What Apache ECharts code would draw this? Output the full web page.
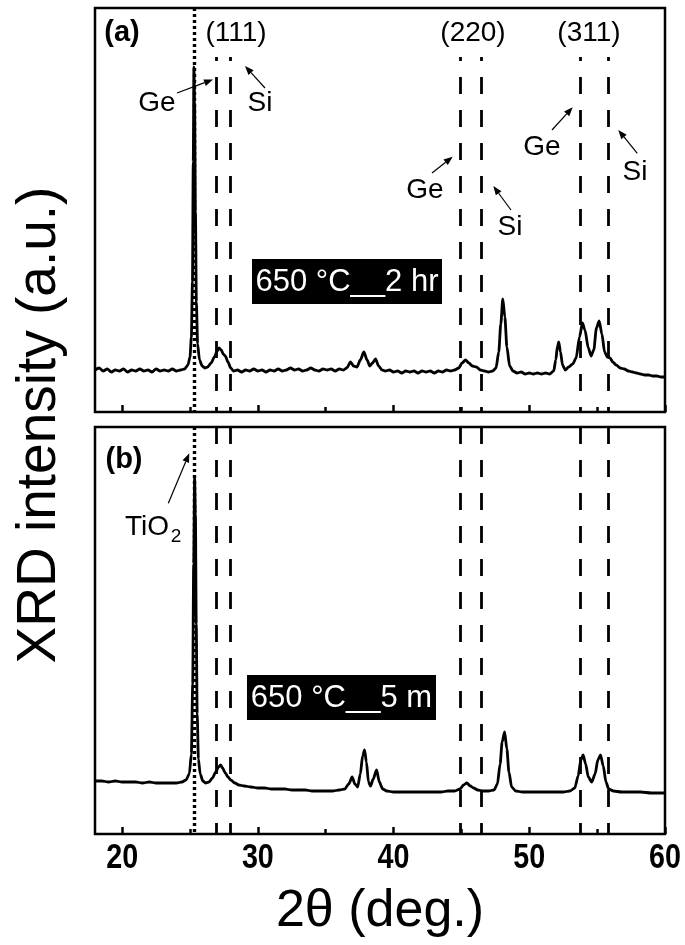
<!DOCTYPE html>
<html><head><meta charset="utf-8">
<script src="https://cdn.jsdelivr.net/npm/echarts@6/dist/echarts.min.js"></script>
<style>html,body{margin:0;padding:0;background:#fff}#c{width:685px;height:945px}</style>
</head><body><div id="c"></div>
<script>
// ---- data (2theta in degrees, intensity in a.u.) ----
const topScan = [[18.0,42],[18.3,44],[18.6,41],[18.9,43],[19.2,40],[19.5,42],[19.8,41],[20.1,43],[20.4,40],[20.7,42],[21.0,41],[21.3,43],[21.6,41],[21.9,42],[22.2,40],[22.5,43],[22.8,41],[23.1,42],[23.4,41],[23.7,43],[24.0,41],[24.3,42],[24.6,43],[24.85,47],[25.0,55],[25.1,75],[25.18,130],[25.24,250],[25.29,345],[25.34,310],[25.4,200],[25.47,110],[25.56,68],[25.7,52],[25.9,46],[26.1,44],[26.3,45],[26.55,49],[26.8,55],[27.0,61],[27.15,64],[27.3,62],[27.45,58],[27.6,56],[27.8,50],[28.0,44],[28.2,41],[28.5,42],[28.8,40],[29.1,42],[29.4,41],[29.7,43],[30.0,41],[30.3,42],[30.6,40],[30.9,42],[31.2,41],[31.5,43],[31.8,41],[32.1,42],[32.4,44],[32.7,42],[33.0,43],[33.3,41],[33.6,42],[33.9,44],[34.2,42],[34.5,41],[34.8,43],[35.1,42],[35.4,43],[35.7,41],[36.0,43],[36.3,42],[36.55,44],[36.83,50],[37.05,46],[37.3,45],[37.55,52],[37.81,60],[38.05,52],[38.25,46],[38.45,49],[38.67,53],[38.9,46],[39.15,42],[39.4,41],[39.7,42],[40.0,40],[40.3,41],[40.6,39],[40.9,41],[41.2,40],[41.5,41],[41.8,39],[42.1,41],[42.4,40],[42.7,41],[43.0,39],[43.3,41],[43.6,40],[43.9,42],[44.2,41],[44.5,42],[44.8,44],[45.05,49],[45.3,52],[45.55,49],[45.8,46],[46.1,45],[46.4,42],[46.7,41],[47.0,40],[47.3,41],[47.55,44],[47.75,60],[47.9,88],[48.05,113],[48.2,95],[48.35,65],[48.55,46],[48.8,41],[49.1,39],[49.4,40],[49.7,38],[50.0,39],[50.3,38],[50.6,39],[50.9,38],[51.2,39],[51.5,38],[51.8,41],[51.95,52],[52.08,66],[52.17,70],[52.3,60],[52.45,47],[52.65,42],[52.9,45],[53.2,48],[53.45,54],[53.7,75],[53.92,89],[54.1,82],[54.35,64],[54.55,56],[54.75,62],[54.95,84],[55.15,91],[55.35,78],[55.55,60],[55.75,55],[55.95,54],[56.15,50],[56.4,47],[56.7,44],[57.0,43],[57.3,41],[57.6,40],[57.9,39],[58.2,38],[58.5,37],[58.8,37],[59.1,36],[59.4,36],[59.7,35],[60.0,35]];

const bottomScan = [[18.0,53],[18.5,53],[19.0,52],[19.5,53],[20.0,52],[20.5,52],[21.0,52],[21.5,51],[22.0,52],[22.5,51],[23.0,51],[23.5,51],[24.0,51],[24.4,52],[24.7,54],[24.95,60],[25.1,80],[25.2,150],[25.27,270],[25.34,357],[25.4,320],[25.46,210],[25.53,120],[25.62,75],[25.75,60],[25.95,53],[26.15,51],[26.4,52],[26.65,56],[26.9,62],[27.1,67],[27.25,69],[27.4,66],[27.6,61],[27.8,57],[28.0,54],[28.3,51],[28.6,49],[29.0,48],[29.5,47],[30.0,46],[30.5,46],[31.0,45],[31.5,45],[32.0,45],[32.5,44],[33.0,44],[33.5,44],[34.0,43],[34.5,43],[35.0,43],[35.5,43],[36.0,44],[36.4,45],[36.7,50],[36.95,57],[37.15,50],[37.35,47],[37.55,60],[37.72,78],[37.86,84],[38.0,72],[38.15,52],[38.3,48],[38.5,55],[38.75,64],[38.95,52],[39.2,45],[39.5,43],[40.0,42],[40.5,42],[41.0,42],[41.5,42],[42.0,42],[42.5,42],[43.0,42],[43.5,42],[44.0,43],[44.5,43],[44.9,45],[45.15,49],[45.4,51],[45.65,48],[45.9,46],[46.2,44],[46.6,43],[47.0,43],[47.4,44],[47.65,50],[47.85,70],[48.0,92],[48.18,102],[48.35,85],[48.5,62],[48.7,47],[49.0,43],[49.5,42],[50.0,42],[50.5,42],[51.0,42],[51.5,42],[52.0,42],[52.5,42],[53.0,43],[53.35,46],[53.6,58],[53.8,74],[53.97,79],[54.15,70],[54.35,57],[54.6,52],[54.85,60],[55.05,74],[55.25,79],[55.45,68],[55.65,52],[55.85,45],[56.2,43],[56.8,42],[57.5,42],[58.2,42],[59.0,41],[60.0,41]];

const gePeaks = [26.96, 44.89, 53.73];   // Ge (111), (220), (311)
const siPeaks = [27.99, 46.48, 55.79];   // Si (111), (220), (311)
const tio2Peak = 25.28;
const xMajorTicks = [20, 30, 40, 50, 60];
const xMinorTicks = [25, 35, 45, 55];
const hklLabels = ['(111)', '(220)', '(311)'];
const topLabel = '650 °C__2 hr';
const bottomLabel = '650 °C__5 m';

// ---- styling / layout ----
const F = "'Liberation Sans', Arial, sans-serif";
const TOP_MAX = 404, BOT_MAX = 407;
const LW = 2.8;

const chart = echarts.init(document.getElementById('c'), null, {renderer: 'canvas'});

function xAx(grid, ticks, len) {
  return {
    type: 'value', gridIndex: grid, min: 18, max: 60, position: 'bottom',
    axisLine: {show: false},
    splitLine: {show: false},
    axisTick: {show: true, inside: true, length: len, customValues: ticks,
               lineStyle: {color: '#000', width: 2.5}},
    axisLabel: {show: false}
  };
}
function yAx(grid, max) {
  return {type: 'value', gridIndex: grid, min: 0, max: max, show: false, splitLine: {show: false}};
}
const dashStyle = {color: '#000', width: LW, type: [17, 16], dashOffset: 13};
const dashStyleB = {color: '#000', width: LW, type: [17, 16], dashOffset: 0};
const dotStyle = {color: '#000', width: 3.4, type: [3, 3]};

function refLines(maxY, startY, style) {
  const d = [[{coord: [tio2Peak, maxY], lineStyle: dotStyle}, {coord: [tio2Peak, 0]}]];
  gePeaks.concat(siPeaks).forEach(v => {
    d.push([{coord: [v, startY], lineStyle: style}, {coord: [v, 0]}]);
  });
  return {silent: true, symbol: ['none', 'none'], label: {show: false},
          animation: false, data: d};
}

function txt(text, x, y, size, opts) {
  opts = opts || {};
  return {type: 'text', x: x, y: y, rotation: opts.rot || 0, scaleX: opts.sx || 1, z: 100,
    style: {text: text, fill: opts.fill || '#000', font: (opts.bold ? 'bold ' : '') + size + 'px ' + F,
            textAlign: opts.align || 'center', textVerticalAlign: 'middle'}};
}
function arrow(x1, y1, x2, y2) {
  const dx = x2 - x1, dy = y2 - y1, L = Math.hypot(dx, dy), ux = dx / L, uy = dy / L;
  const hl = 9, hw = 3.5;
  const bx = x2 - ux * hl, by = y2 - uy * hl;
  return [
    {type: 'line', z: 100, shape: {x1: x1, y1: y1, x2: bx, y2: by}, style: {stroke: '#000', lineWidth: 1.2}},
    {type: 'polygon', z: 100, shape: {points: [[x2, y2], [bx - uy * hw, by + ux * hw], [bx + uy * hw, by - ux * hw]]},
     style: {fill: '#000'}}
  ];
}

const graphics = [
  txt('(a)', 122, 33, 29, {bold: true}),
  txt('(b)', 124, 460, 29, {bold: true}),
  txt(hklLabels[0], 236, 33, 28),
  txt(hklLabels[1], 473, 33, 28),
  txt(hklLabels[2], 589, 33, 28),
  txt('Ge', 157, 103, 28), txt('Si', 260, 103, 28),
  txt('Ge', 425, 190, 28), txt('Si', 510, 227, 28),
  txt('Ge', 542, 147, 28), txt('Si', 635, 172, 28),
  txt('TiO', 125, 527, 28, {align: 'left'}),
  txt('2', 176, 537, 19),
  {type: 'rect', z: 90, shape: {x: 252, y: 259, width: 190, height: 45}, style: {fill: '#000'}},
  txt(topLabel, 347, 282, 31, {fill: '#fff'}),
  {type: 'rect', z: 90, shape: {x: 247, y: 675, width: 189, height: 45}, style: {fill: '#000'}},
  txt(bottomLabel, 341.5, 698, 31, {fill: '#fff'}),
  txt('XRD intensity (a.u.)', 40, 425, 55, {rot: Math.PI / 2}),
  txt('2θ (deg.)', 380, 912, 52)
].concat(
  arrow(177, 93, 213, 79.5),
  arrow(265, 88, 245, 66),
  arrow(432, 173, 452.7, 156.7),
  arrow(511, 210, 493.3, 186),
  arrow(552, 130, 572.7, 107.3),
  arrow(637.3, 153.3, 618.3, 130),
  arrow(168.3, 503.3, 189.3, 453.3)
);

chart.setOption({
  animation: false,
  backgroundColor: '#fff',
  grid: [
    {left: 95, top: 8, width: 570, height: 404, show: true, borderColor: '#000', borderWidth: 2.5, backgroundColor: 'transparent'},
    {left: 95, top: 427, width: 570, height: 407, show: true, borderColor: '#000', borderWidth: 2.5, backgroundColor: 'transparent'}
  ],
  xAxis: [
    xAx(0, xMajorTicks, 7), xAx(0, xMinorTicks, 5),
    xAx(1, xMajorTicks, 7), xAx(1, xMinorTicks, 5)
  ],
  yAxis: [yAx(0, TOP_MAX), yAx(1, BOT_MAX)],
  series: [
    {type: 'line', xAxisIndex: 0, yAxisIndex: 0, data: topScan, symbol: 'none', smooth: 0.25, smoothMonotone: 'x',
     lineStyle: {color: '#000', width: LW}, markLine: refLines(TOP_MAX, 355, dashStyle), z: 5},
    {type: 'line', xAxisIndex: 2, yAxisIndex: 1, data: bottomScan, symbol: 'none', smooth: 0.25, smoothMonotone: 'x',
     lineStyle: {color: '#000', width: LW}, markLine: refLines(BOT_MAX, BOT_MAX, dashStyleB), z: 5}
  ],
  graphic: graphics
});

// x tick labels (condensed bold, like the original's narrow font), placed through the axis scale
const tickLabelGraphics = xMajorTicks.map(v => {
  const px = chart.convertToPixel({xAxisIndex: 2}, v);
  return txt(String(v), px, 858, 35, {bold: true, sx: 0.82});
});
chart.setOption({graphic: graphics.concat(tickLabelGraphics)});
</script></body></html>
